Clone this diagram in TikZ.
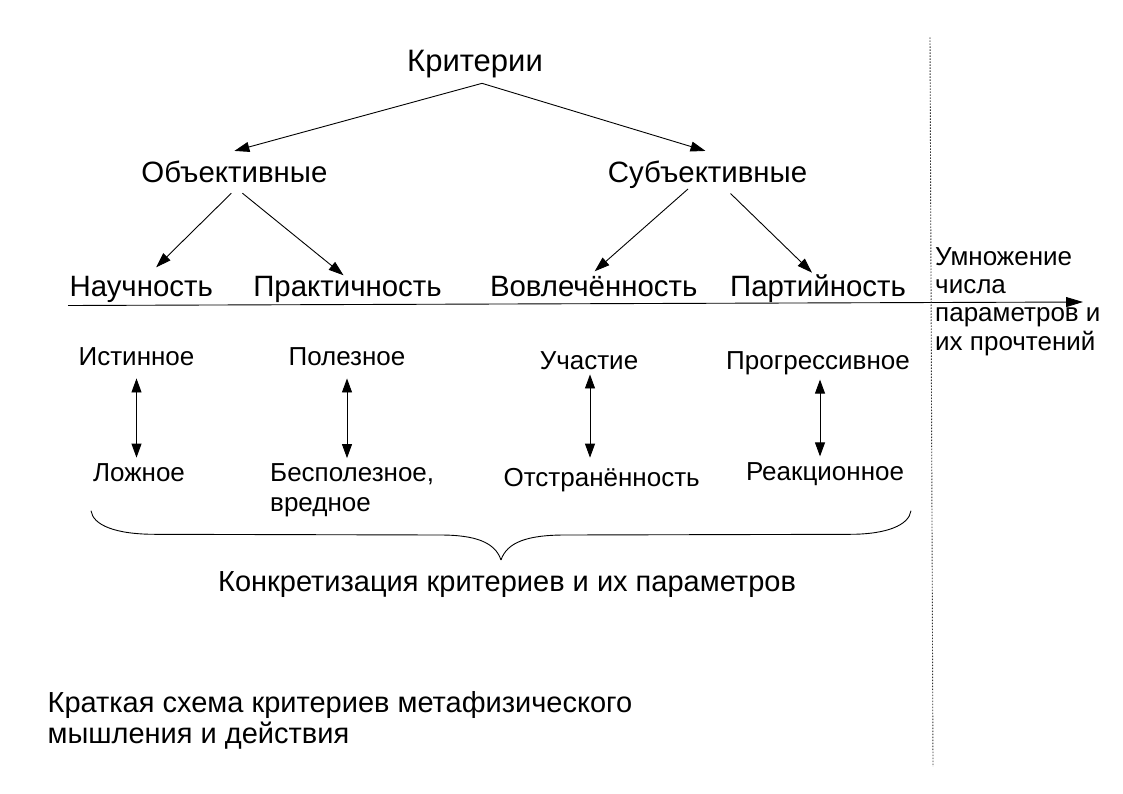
\documentclass[tikz,border=0pt]{standalone}
\usepackage{fontspec}
\setmainfont{Liberation Sans}
\usetikzlibrary{arrows.meta,calc}

\begin{document}
\begin{tikzpicture}[x=1pt,y=-1pt,
  lbl/.style={inner sep=0pt, anchor=base},
  big/.style={lbl, font=\fontsize{29.4}{34}\selectfont},
  pole/.style={lbl, font=\fontsize{26}{30}\selectfont},
  arr/.style={line width=0.9pt, -{Triangle[length=15pt,width=10pt]}},
  dbl/.style={line width=0.9pt, {Triangle[length=14pt,width=10pt]}-{Triangle[length=14pt,width=10pt]}}]
\useasboundingbox (0,0) rectangle (1123,794);

% Criteria tree
\node[big, font=\fontsize{31}{36}\selectfont] (crit) at (475,71.7) {Критерии};
\node[big] (obj) at (234.4,182.7) {Объективные};
\node[big] (subj) at (707.5,182.7) {Субъективные};
\node[big] (sci) at (141.2,296.7) {Научность};
\node[big] (prac) at (347.5,296.7) {Практичность};
\node[big] (inv) at (593.7,296.7) {Вовлечённость};
\node[big] (party) at (818,296.7) {Партийность};

\draw[arr] ([xshift=7pt,yshift=-5pt]crit.south) -- ([yshift=10pt]obj.north);
\draw[arr] ([xshift=7pt,yshift=-5pt]crit.south) -- ([xshift=-2pt,yshift=10pt]subj.north);
\draw[arr] ([xshift=-3pt,yshift=-10pt]obj.south) -- ([xshift=15pt,yshift=9pt]sci.north);
\draw[arr] ([xshift=8pt,yshift=-10pt]obj.south) -- ([xshift=-4pt,yshift=1pt]prac.north);
\draw[arr] ([xshift=-19.5pt]subj.south) -- ([xshift=1pt,yshift=5pt]inv.north);
\draw[arr] ([xshift=23pt,yshift=-4.5pt]subj.south) -- ([xshift=-6pt,yshift=2pt]party.north);

% Axis and divider
\coordinate (axisL) at (68,305.5);
\coordinate (axisR) at (1083,302);
\draw[line width=0.9pt, -{Triangle[length=17pt,width=10pt]}] (axisL) -- (axisR);
\coordinate (divT) at (930,37.5);
\coordinate (divB) at (933,766.5);
\draw[line width=0.9pt, dash pattern=on 1.5pt off 1.5pt, black!80] (divT) -- (divB);
\node[lbl, anchor=base west, align=left, font=\fontsize{26}{28.3}\selectfont] (mult) at (935,350)
  {Умножение\\числа\\параметров и\\их прочтений};

% Poles of each criterion
\node[pole] (truth) at (136.5,365) {Истинное};
\node[pole] (lie) at (139,481.7) {Ложное};
\node[pole] (use) at (347,365) {Полезное};
\node[pole, anchor=base west, align=left] (harm) at (270,511.7) {Бесполезное,\\вредное};
\node[pole] (part) at (589,369) {Участие};
\node[pole] (detach) at (601.7,486) {Отстранённость};
\node[pole] (prog) at (818,369) {Прогрессивное};
\node[pole] (react) at (825,480) {Реакционное};

\draw[dbl, shorten <=13pt, shorten >=6pt] (truth.south) -- (truth.south |- lie.north);
\draw[dbl, shorten <=13pt, shorten >=5.5pt] (use.south) -- (use.south |- harm.north);
\draw[dbl, shorten <=5pt, shorten >=10pt] ([xshift=1pt]part.south) -- ([xshift=1pt]part.south |- detach.north);
\draw[dbl, shorten <=5pt, shorten >=5.5pt] ([xshift=2pt]prog.south) -- ([xshift=2pt]prog.south |- react.north);

% Brace
\draw[line width=0.9pt] (91,510.7) .. controls (93,525) and (115,534.3) .. (155,534.3)
  -- (440,535) .. controls (475,535) and (495,542) .. (501,560);
\draw[line width=0.9pt] (911,510.7) .. controls (909,525) and (887,534.3) .. (850,534.3)
  -- (565,535) .. controls (528,535) and (507,542) .. (501,560);
\node[lbl, font=\fontsize{29}{34}\selectfont] (concl) at (507,591.7)
  {Конкретизация критериев и их параметров};

% Caption
\node[lbl, anchor=base west, align=left, font=\fontsize{29}{30.6}\selectfont] (title) at (47.4,743.3)
  {Краткая схема критериев метафизического\\мышления и действия};
\end{tikzpicture}
\end{document}
